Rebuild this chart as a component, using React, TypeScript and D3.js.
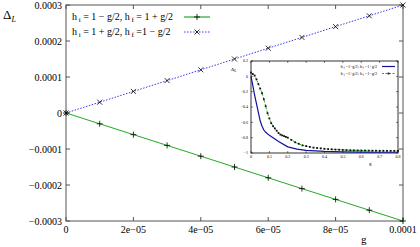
import React from "react";
import * as d3 from "d3";

// main plot: Delta_L vs g
const gValues = [0, 1e-5, 2e-5, 3e-5, 4e-5, 5e-5, 6e-5, 7e-5, 8e-5, 9e-5, 1e-4];
const deltaPlus = [0, -3e-5, -6e-5, -9e-5, -1.2e-4, -1.5e-4, -1.8e-4, -2.1e-4, -2.4e-4, -2.7e-4, -3e-4];
const deltaMinus = [0, 3e-5, 6e-5, 9e-5, 1.2e-4, 1.5e-4, 1.8e-4, 2.1e-4, 2.4e-4, 2.7e-4, 3e-4];
const xTicks = [0, 2e-5, 4e-5, 6e-5, 8e-5, 1e-4];
const xTickLabels = ["0", "2e\u221205", "4e\u221205", "6e\u221205", "8e\u221205", "0.0001"];
const yTicks = [3e-4, 2e-4, 1e-4, 0, -1e-4, -2e-4, -3e-4];
const yTickLabels = ["0.0003", "0.0002", "0.0001", "0", "\u22120.0001", "\u22120.0002", "\u22120.0003"];

// inset: large g
const insetBlueG = [0, 0.01, 0.02, 0.03, 0.04, 0.05, 0.06, 0.07, 0.08, 0.1, 0.12, 0.15, 0.2, 0.25, 0.3, 0.4, 0.5, 0.6, 0.7, 0.8];
const insetBlueD = [0.0, -0.12, -0.25, -0.36, -0.47, -0.58, -0.65, -0.7, -0.73, -0.77, -0.8, -0.85, -0.92, -0.95, -0.965, -0.978, -0.985, -0.988, -0.99, -0.99];
const insetGreenG = [0, 0.01, 0.02, 0.03, 0.04, 0.05, 0.06, 0.07, 0.08, 0.09, 0.1, 0.11, 0.12, 0.13, 0.14, 0.15, 0.16, 0.17, 0.18, 0.19, 0.2, 0.22, 0.24, 0.26, 0.28, 0.3, 0.32, 0.34, 0.36, 0.38, 0.4, 0.42, 0.44, 0.46, 0.48, 0.5, 0.52, 0.54, 0.56, 0.58, 0.6, 0.62, 0.64, 0.66, 0.68, 0.7, 0.72, 0.74, 0.76, 0.78, 0.8];
const insetGreenD = [0.05, 0.03, 0.01, -0.04, -0.1, -0.16, -0.22, -0.3, -0.39, -0.48, -0.55, -0.61, -0.65, -0.68, -0.71, -0.74, -0.76, -0.77, -0.78, -0.79, -0.8, -0.83, -0.86, -0.88, -0.9, -0.91, -0.92, -0.93, -0.935, -0.94, -0.945, -0.95, -0.952, -0.955, -0.957, -0.96, -0.962, -0.964, -0.965, -0.966, -0.967, -0.968, -0.969, -0.97, -0.97, -0.971, -0.971, -0.972, -0.972, -0.972, -0.972];
const insetXTicks = [0, 0.1, 0.2, 0.3, 0.4, 0.5, 0.6, 0.7, 0.8];
const insetYTicks = [0.2, 0, -0.2, -0.4, -0.6, -0.8, -1];

const FONT = "Liberation Serif";
const AXIS = "#555";

const Plus = ({ x, y, s }: { x: number; y: number; s: number }) => (
  <path d={`M${x - s},${y}H${x + s}M${x},${y - s}V${y + s}`} stroke="#000" strokeWidth={0.8} />
);
const Cross = ({ x, y, s }: { x: number; y: number; s: number }) => (
  <path d={`M${x - s},${y - s}L${x + s},${y + s}M${x - s},${y + s}L${x + s},${y - s}`} stroke="#000" strokeWidth={0.8} />
);

export default function App() {
  const W = 420, H = 247;
  const L = 66, R = 403, T = 5, B = 221;
  const x = d3.scaleLinear().domain([0, 1e-4]).range([L, R]);
  const y = d3.scaleLinear().domain([-3e-4, 3e-4]).range([B, T]);
  const line = d3.line<number>().x((d, i) => x(gValues[i])).y((d) => y(d));

  const iL = 251, iR = 398, iT = 61, iB = 153;
  const ix = d3.scaleLinear().domain([0, 0.8]).range([iL, iR]);
  const iy = d3.scaleLinear().domain([-1, 0.2]).range([iB, iT]);
  const blueLine = d3.line<number>().x((d, i) => ix(insetBlueG[i])).y((d) => iy(d));
  const greenLine = d3.line<number>().x((d, i) => ix(insetGreenG[i])).y((d) => iy(d));

  return (
    <svg width={W} height={H} style={{ position: "absolute", left: 0, top: 0 }}>
      <g fontFamily={FONT}>
      <rect width={W} height={H} fill="#fff" />
      {/* main axes */}
      <rect x={L} y={T} width={R - L} height={B - T} fill="none" stroke={AXIS} strokeWidth={1} />
      {xTicks.map((t, i) => (
        <g key={"xt" + i}>
          <line x1={x(t)} x2={x(t)} y1={B} y2={B - 4} stroke={AXIS} />
          <line x1={x(t)} x2={x(t)} y1={T} y2={T + 4} stroke={AXIS} />
          <text x={x(t)} y={233} fontSize={10} textAnchor="middle">{xTickLabels[i]}</text>
        </g>
      ))}
      {yTicks.map((t, i) => (
        <g key={"yt" + i}>
          <line x1={L} x2={L + 4} y1={y(t)} y2={y(t)} stroke={AXIS} />
          <line x1={R} x2={R - 4} y1={y(t)} y2={y(t)} stroke={AXIS} />
          <text x={62} y={y(t)} dy="0.35em" fontSize={10} textAnchor="end">{yTickLabels[i]}</text>
        </g>
      ))}
      <text x={3} y={19} fontSize={13}>Δ<tspan fontSize={8} dy={3} fontStyle="italic">L</tspan></text>
      <text x={361} y={243} fontSize={11}>g</text>

      {/* series */}
      <path d={line(deltaPlus) ?? ""} fill="none" stroke="#22aa22" strokeWidth={1} />
      <path d={line(deltaMinus) ?? ""} fill="none" stroke="#3a3ae6" strokeWidth={1} strokeDasharray="1.5,1.5" />
      {deltaPlus.map((d, i) => <Plus key={"p" + i} x={x(gValues[i])} y={y(d)} s={3} />)}
      {deltaMinus.map((d, i) => <Cross key={"c" + i} x={x(gValues[i])} y={y(d)} s={2.5} />)}

      {/* legend */}
      <text x={72} y={20} fontSize={10}>
        h<tspan fontSize={7} dy={2}> i</tspan><tspan dy={-2}> = 1 − g/2, h</tspan><tspan fontSize={7} dy={2}> f</tspan><tspan dy={-2}> = 1 + g/2</tspan>
      </text>
      <line x1={184} x2={210} y1={17} y2={17} stroke="#22aa22" strokeWidth={1.2} />
      <Plus x={197} y={17} s={3} />
      <text x={72} y={35} fontSize={10}>
        h<tspan fontSize={7} dy={2}> i</tspan><tspan dy={-2}> = 1 + g/2, h</tspan><tspan fontSize={7} dy={2}> f</tspan><tspan dy={-2}> =1 − g/2</tspan>
      </text>
      <line x1={184} x2={210} y1={32} y2={32} stroke="#3a3ae6" strokeWidth={1} strokeDasharray="1.5,1.5" />
      <Cross x={197} y={32} s={2.5} />

      {/* inset */}
      <rect x={iL} y={iT} width={iR - iL} height={iB - iT} fill="#fff" stroke="#000" strokeWidth={0.8} />
      {insetXTicks.map((t, i) => (
        <g key={"ixt" + i}>
          <line x1={ix(t)} x2={ix(t)} y1={iB} y2={iB - 2} stroke="#000" strokeWidth={0.5} />
          <line x1={ix(t)} x2={ix(t)} y1={iT} y2={iT + 2} stroke="#000" strokeWidth={0.5} />
          <text x={ix(t)} y={iB + 5} fontSize={4} textAnchor="middle">{String(t)}</text>
        </g>
      ))}
      {insetYTicks.map((t, i) => (
        <g key={"iyt" + i}>
          <line x1={iL} x2={iL + 2} y1={iy(t)} y2={iy(t)} stroke="#000" strokeWidth={0.5} />
          <line x1={iR} x2={iR - 2} y1={iy(t)} y2={iy(t)} stroke="#000" strokeWidth={0.5} />
          <text x={iL - 3} y={iy(t)} dy="0.35em" fontSize={4} textAnchor="end">{t === 0 ? "0" : String(t).replace("-", "\u2212")}</text>
        </g>
      ))}
      <text x={231} y={71} fontSize={5}>Δ<tspan fontSize={3.5} dy={1} fontStyle="italic">L</tspan></text>
      <text x={369} y={165} fontSize={5}>g</text>
      <path d={greenLine(insetGreenD) ?? ""} fill="none" stroke="#22aa22" strokeWidth={1} strokeDasharray="2,1.5" />
      {insetGreenD.map((d, i) => (
        <rect key={"gs" + i} x={ix(insetGreenG[i]) - 0.9} y={iy(d) - 0.9} width={1.8} height={1.8} fill="#111" />
      ))}
      <path d={blueLine(insetBlueD) ?? ""} fill="none" stroke="#1010a0" strokeWidth={1.2} />
      <text x={377} y={68} fontSize={4.2} textAnchor="end">
        h<tspan fontSize={3} dy={0.8}> i</tspan><tspan dy={-0.8}> =1−g/2; h</tspan><tspan fontSize={3} dy={0.8}> f</tspan><tspan dy={-0.8}> =1+g/2</tspan>
      </text>
      <line x1={382} x2={395} y1={66.5} y2={66.5} stroke="#1010a0" strokeWidth={1.2} />
      <text x={377} y={75} fontSize={4.2} textAnchor="end">
        h<tspan fontSize={3} dy={0.8}> i</tspan><tspan dy={-0.8}> =1+g/2; h</tspan><tspan fontSize={3} dy={0.8}> f</tspan><tspan dy={-0.8}> =1−g/2</tspan>
      </text>
      <line x1={382} x2={395} y1={73.5} y2={73.5} stroke="#22aa22" strokeWidth={1} strokeDasharray="2,1.5" />
      <rect x={387.6} y={72.6} width={1.8} height={1.8} fill="#111" />
      </g>
    </svg>
  );
}
